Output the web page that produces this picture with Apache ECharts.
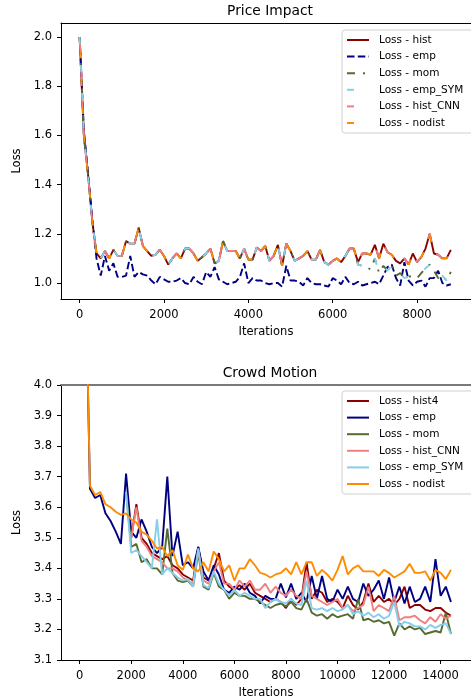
<!DOCTYPE html>
<html>
<head>
<meta charset="utf-8">
<script src="https://cdn.jsdelivr.net/npm/echarts@6/dist/echarts.min.js"></script>
<style>
html, body { margin: 0; padding: 0; background: #fff; }
#chart { width: 471px; height: 700px; }
</style>
</head>
<body>
<div id="chart"></div>
<script>
// ---- Price Impact (one point every 100 iterations, from 0) ----
var piStep = 100;
// curve shared by hist / mom / emp_SYM / hist_CNN / nodist up to 6500
var piShared = [
    2.00, 1.60, 1.44, 1.25, 1.12,
    1.10, 1.13, 1.10, 1.135, 1.11,
    1.11, 1.17, 1.16, 1.16, 1.225,
    1.15, 1.13, 1.11, 1.115, 1.135,
    1.11, 1.075, 1.10, 1.12, 1.10,
    1.14, 1.14, 1.12, 1.09, 1.105,
    1.12, 1.14, 1.08, 1.09, 1.17,
    1.13, 1.13, 1.13, 1.10, 1.14,
    1.095, 1.095, 1.145, 1.13, 1.15,
    1.09, 1.11, 1.155, 1.07, 1.16,
    1.13, 1.09, 1.10, 1.11, 1.13,
    1.095, 1.095, 1.135, 1.085, 1.075,
    1.09, 1.10, 1.085, 1.11, 1.14,
    1.14
];
// 6600 .. 8800, hist / hist_CNN / nodist
var piUpperTail = [
    1.085, 1.12, 1.12, 1.115, 1.155,
    1.10, 1.16, 1.125, 1.115, 1.09,
    1.08, 1.10, 1.075, 1.12, 1.085,
    1.105, 1.14, 1.20, 1.12, 1.115,
    1.10, 1.10, 1.135
];
// 6600 .. 8800, mom / emp_SYM
var piLowerTail = [
    1.075, 1.07, 1.065, 1.055, 1.10,
    1.04, 1.07, 1.05, 1.07, 1.03,
    1.04, 1.02, 1.025, 1.03, 1.02,
    1.04, 1.06, 1.075, 1.05, 1.02,
    1.03, 1.01, 1.045
];
var piEmp = [
    2.0, 1.62, 1.45, 1.26, 1.10,
    1.03, 1.11, 1.05, 1.08, 1.025,
    1.025, 1.03, 1.11, 1.025, 1.045,
    1.035, 1.03, 1.01, 0.995, 1.025,
    1.015, 1.005, 1.005, 1.01, 1.02,
    1.0, 0.995, 1.025, 1.005, 0.995,
    1.045, 1.025, 1.065, 1.015, 1.005,
    0.995, 1.0, 1.005, 1.025, 1.08,
    1.0, 1.02, 1.01, 1.01, 1.0,
    0.995, 1.0, 1.0, 0.985, 1.07,
    1.01, 1.01, 1.005, 0.99, 1.02,
    1.0, 0.995, 0.995, 0.99, 0.985,
    1.02, 1.01, 0.995, 1.025, 1.0,
    0.995, 1.005, 0.99, 0.995, 1.0,
    1.005, 0.995, 1.03, 1.065, 1.075,
    1.02, 0.99, 1.085, 1.01, 0.99,
    1.005, 1.01, 0.985, 1.02, 1.02,
    1.05, 1.0, 0.99, 0.995
];
var piXTicks = [0, 2000, 4000, 6000, 8000];
var piYTicks = [1.0, 1.2, 1.4, 1.6, 1.8, 2.0];

// ---- Crowd Motion (one point every 200 iterations, from 200) ----
var cmStep = 200;
var cmHist4 = [
    null, null, null, null, null, null, null, null, null,
    3.50, 3.61, 3.50, 3.48, 3.45,
    3.44, 3.43, 3.44, 3.41, 3.40,
    3.38, 3.37, 3.36, 3.47, 3.37,
    3.36, 3.40, 3.45, 3.36, 3.34,
    3.33, 3.345, 3.33, 3.35, 3.32,
    3.31, 3.30, 3.29, 3.30, 3.29,
    3.27, 3.30, 3.28, 3.30, 3.42,
    3.30, 3.33, 3.32, 3.29, 3.30,
    3.29, 3.27, 3.31, 3.28, 3.265,
    3.29, 3.35, 3.29, 3.31, 3.29,
    3.30, 3.28, 3.30, 3.34, 3.27,
    3.28, 3.28, 3.265, 3.26, 3.27,
    3.27, 3.255, 3.245
];
var cmEmp = [
    4.5, 3.66, 3.63, 3.64, 3.58,
    3.555, 3.52, 3.48, 3.71, 3.52,
    3.50, 3.56, 3.52, 3.47, 3.45,
    3.47, 3.70, 3.44, 3.52, 3.41,
    3.42, 3.40, 3.47, 3.39, 3.36,
    3.41, 3.38, 3.33, 3.32, 3.34,
    3.33, 3.35, 3.32, 3.31, 3.285,
    3.31, 3.30, 3.30, 3.35, 3.305,
    3.35, 3.30, 3.32, 3.29, 3.375,
    3.30, 3.375, 3.30, 3.29, 3.33,
    3.30, 3.34, 3.30, 3.29, 3.35,
    3.31, 3.33, 3.36, 3.30, 3.37,
    3.29, 3.34, 3.285, 3.34, 3.29,
    3.30, 3.34, 3.29, 3.43, 3.31,
    3.34, 3.29
];
var cmMom = [
    null, null, null, null, null, null, null, null,
    3.65,
    3.47, 3.48, 3.42, 3.43, 3.40,
    3.40, 3.38, 3.53, 3.385, 3.36,
    3.355, 3.36, 3.34, 3.45, 3.34,
    3.33, 3.385, 3.34, 3.33, 3.30,
    3.32, 3.31, 3.31, 3.30, 3.30,
    3.29, 3.28, 3.27, 3.28, 3.285,
    3.275, 3.29, 3.27, 3.265, 3.30,
    3.255, 3.245, 3.25, 3.235, 3.25,
    3.24, 3.245, 3.25, 3.235, 3.30,
    3.23, 3.235, 3.225, 3.23, 3.22,
    3.225, 3.18, 3.22, 3.20, 3.21,
    3.20, 3.205, 3.185, 3.19, 3.195,
    3.19, 3.255, 3.185
];
var cmHistCNN = [
    null, null, null, null, null, null, null, null, null,
    3.50, 3.60, 3.49, 3.47, 3.44,
    3.43, 3.42, 3.40, 3.40, 3.39,
    3.37, 3.36, 3.35, 3.46, 3.36,
    3.35, 3.39, 3.42, 3.35, 3.35,
    3.33, 3.36, 3.34, 3.36, 3.33,
    3.33, 3.35, 3.32, 3.34, 3.32,
    3.31, 3.33, 3.31, 3.30, 3.39,
    3.31, 3.30, 3.29, 3.28, 3.29,
    3.30, 3.27, 3.28, 3.26, 3.27,
    3.28, 3.34, 3.26, 3.28, 3.27,
    3.26, 3.31, 3.23, 3.24, 3.24,
    3.245, 3.23, 3.22, 3.24, 3.225,
    3.25, 3.235, 3.245
];
var cmEmpSym = [
    null, null, null, null, null, null, null, null,
    3.65,
    3.45, 3.46, 3.44, 3.42, 3.40,
    3.56, 3.38, 3.40, 3.385, 3.37,
    3.36, 3.365, 3.34, 3.465, 3.345,
    3.335, 3.39, 3.35, 3.33, 3.31,
    3.33, 3.31, 3.32, 3.31, 3.30,
    3.30, 3.27, 3.29, 3.30, 3.29,
    3.285, 3.30, 3.285, 3.28, 3.36,
    3.27, 3.265, 3.27, 3.26, 3.27,
    3.26, 3.265, 3.28, 3.25, 3.26,
    3.245, 3.255, 3.24, 3.25, 3.235,
    3.245, 3.29, 3.21, 3.225, 3.22,
    3.21, 3.21, 3.20, 3.215, 3.205,
    3.215, 3.22, 3.185
];
var cmNodist = [
    4.5, 3.67, 3.64, 3.65, 3.61,
    3.60, 3.585, 3.575, 3.58, 3.56,
    3.55, 3.52, 3.51, 3.49, 3.465,
    3.47, 3.44, 3.46, 3.41, 3.395,
    3.445, 3.40, 3.39, 3.42, 3.39,
    3.455, 3.43, 3.39, 3.41, 3.36,
    3.40, 3.40, 3.43, 3.41, 3.385,
    3.38, 3.37, 3.38, 3.385, 3.40,
    3.38, 3.42, 3.38, 3.42, 3.42,
    3.375, 3.395, 3.38, 3.36, 3.395,
    3.44, 3.38, 3.40, 3.41, 3.39,
    3.39, 3.39, 3.375, 3.395, 3.385,
    3.37, 3.38, 3.39, 3.415, 3.385,
    3.385, 3.39, 3.36, 3.395, 3.385,
    3.365, 3.395
];
var cmXTicks = [0, 2000, 4000, 6000, 8000, 10000, 12000, 14000];
var cmYTicks = [3.1, 3.2, 3.3, 3.4, 3.5, 3.6, 3.7, 3.8, 3.9, 4.0];

var FONT = 'DejaVu Sans';
var C = {
    darkred: '#8b0000', navy: '#000080', olive: '#556b2f',
    sky: '#87ceeb', coral: '#f08080', orange: '#ff8c00'
};

function pairs(vals, step, start) {
    var out = [];
    for (var i = 0; i < vals.length; i++) {
        if (vals[i] == null) continue;
        out.push([start + i * step, vals[i]]);
    }
    return out;
}

function line(name, idx, data, color, type, offset) {
    return {
        name: name, type: 'line', xAxisIndex: idx, yAxisIndex: idx,
        data: data, symbol: 'none', color: color, silent: true,
        lineStyle: { color: color, width: 1.9, type: type || 'solid', dashOffset: offset || 0 }
    };
}

// legend entries: line only, the marker is made transparent
function legItem(name, color, type) {
    return { name: name,
        itemStyle: { color: 'rgba(0,0,0,0)', borderWidth: 0, opacity: 0 },
        lineStyle: { color: color, width: 2, type: type || 'solid', dashOffset: 0 } };
}

function legend(top, items) {
    return {
        orient: 'vertical', left: 342, top: top,
        padding: [4, 40, 4, 4],
        itemWidth: 22, itemHeight: 12, itemGap: 4.6,
        backgroundColor: '#fff', borderColor: '#d0d0d0', borderWidth: 1, borderRadius: 3,
        selectedMode: false,
        textStyle: { fontFamily: FONT, fontSize: 10.5, color: '#000', lineHeight: 12, padding: [0, 0, 0, 5] },
        data: items
    };
}

function xAx(idx, min, max, ticks) {
    return {
        type: 'value', gridIndex: idx, min: min, max: max,
        name: 'Iterations', nameLocation: 'middle', nameGap: 27,
        nameTextStyle: { fontFamily: FONT, fontSize: 11.5, color: '#000' },
        axisLine: { onZero: false, lineStyle: { color: '#000', width: 1 } },
        axisTick: { length: 4, lineStyle: { color: '#000' }, customValues: ticks },
        axisLabel: { fontFamily: FONT, fontSize: 11.5, color: '#000', margin: 10, customValues: ticks,
            formatter: function (v) { return String(v); } },
        splitLine: { show: false }
    };
}

function topSpine(idx, min, max, color, width) {
    return {
        type: 'value', gridIndex: idx, min: min, max: max, position: 'top',
        axisLine: { onZero: false, lineStyle: { color: color, width: width } },
        axisTick: { show: false }, axisLabel: { show: false }, splitLine: { show: false }
    };
}

function yAx(idx, min, max, ticks) {
    return {
        type: 'value', gridIndex: idx, min: min, max: max,
        name: 'Loss', nameLocation: 'middle', nameGap: 28,
        nameTextStyle: { fontFamily: FONT, fontSize: 11.5, color: '#000' },
        axisLine: { show: true, onZero: false, lineStyle: { color: '#000', width: 1 } },
        axisTick: { show: true, length: 4, lineStyle: { color: '#000' }, customValues: ticks },
        axisLabel: { fontFamily: FONT, fontSize: 11.5, color: '#000', margin: 9, customValues: ticks,
            formatter: function (v) { return v.toFixed(1); } },
        splitLine: { show: false }
    };
}

var piUpper = piShared.concat(piUpperTail);
var piLower = piShared.concat(piLowerTail);

var empDash = [7.5, 3.3];
var momDash = [8, 8, 2, 8];
var sparseDash = [7, 21];

var option = {
    animation: false,
    title: [
        { text: 'Price Impact', left: 270, top: 4, padding: 0, textAlign: 'center',
          textStyle: { fontFamily: FONT, fontSize: 13.8, fontWeight: 'normal', color: '#000' } },
        { text: 'Crowd Motion', left: 270, top: 366, padding: 0, textAlign: 'center',
          textStyle: { fontFamily: FONT, fontSize: 13.8, fontWeight: 'normal', color: '#000' } }
    ],
    grid: [
        { left: 61, top: 23, width: 418, height: 276 },
        { left: 61, top: 385, width: 418, height: 276 }
    ],
    xAxis: [
        xAx(0, -442, 9279, piXTicks),
        xAx(1, -723, 15177, cmXTicks),
        topSpine(0, -442, 9279, '#000', 1),
        topSpine(1, -723, 15177, '#7a7a7a', 2.2)
    ],
    yAxis: [
        yAx(0, 0.935, 2.057, piYTicks),
        yAx(1, 3.1, 4.0, cmYTicks)
    ],
    legend: [
        legend(30, [
            legItem('Loss - hist', C.darkred),
            legItem('Loss - emp', C.navy, empDash),
            legItem('Loss - mom', C.olive, momDash),
            legItem('Loss - emp_SYM', C.sky, sparseDash),
            legItem('Loss - hist_CNN', C.coral, sparseDash),
            legItem('Loss - nodist', C.orange, sparseDash)
        ]),
        legend(391, [
            legItem('Loss - hist4', C.darkred),
            legItem('Loss - emp', C.navy),
            legItem('Loss - mom', C.olive),
            legItem('Loss - hist_CNN', C.coral),
            legItem('Loss - emp_SYM', C.sky),
            legItem('Loss - nodist', C.orange)
        ])
    ],
    series: [
        line('Loss - hist', 0, pairs(piUpper, piStep, 0), C.darkred),
        line('Loss - emp', 0, pairs(piEmp, piStep, 0), C.navy, empDash),
        line('Loss - mom', 0, pairs(piLower, piStep, 0), C.olive, momDash, 0),
        line('Loss - emp_SYM', 0, pairs(piLower, piStep, 0), C.sky, sparseDash, 0),
        line('Loss - hist_CNN', 0, pairs(piUpper, piStep, 0), C.coral, sparseDash, 21),
        line('Loss - nodist', 0, pairs(piUpper, piStep, 0), C.orange, sparseDash, 14),

        line('Loss - hist4', 1, pairs(cmHist4, cmStep, cmStep), C.darkred),
        line('Loss - emp', 1, pairs(cmEmp, cmStep, cmStep), C.navy),
        line('Loss - mom', 1, pairs(cmMom, cmStep, cmStep), C.olive),
        line('Loss - hist_CNN', 1, pairs(cmHistCNN, cmStep, cmStep), C.coral),
        line('Loss - emp_SYM', 1, pairs(cmEmpSym, cmStep, cmStep), C.sky),
        line('Loss - nodist', 1, pairs(cmNodist, cmStep, cmStep), C.orange)
    ]
};

var chart = echarts.init(document.getElementById('chart'));
chart.setOption(option);
</script>
</body>
</html>
